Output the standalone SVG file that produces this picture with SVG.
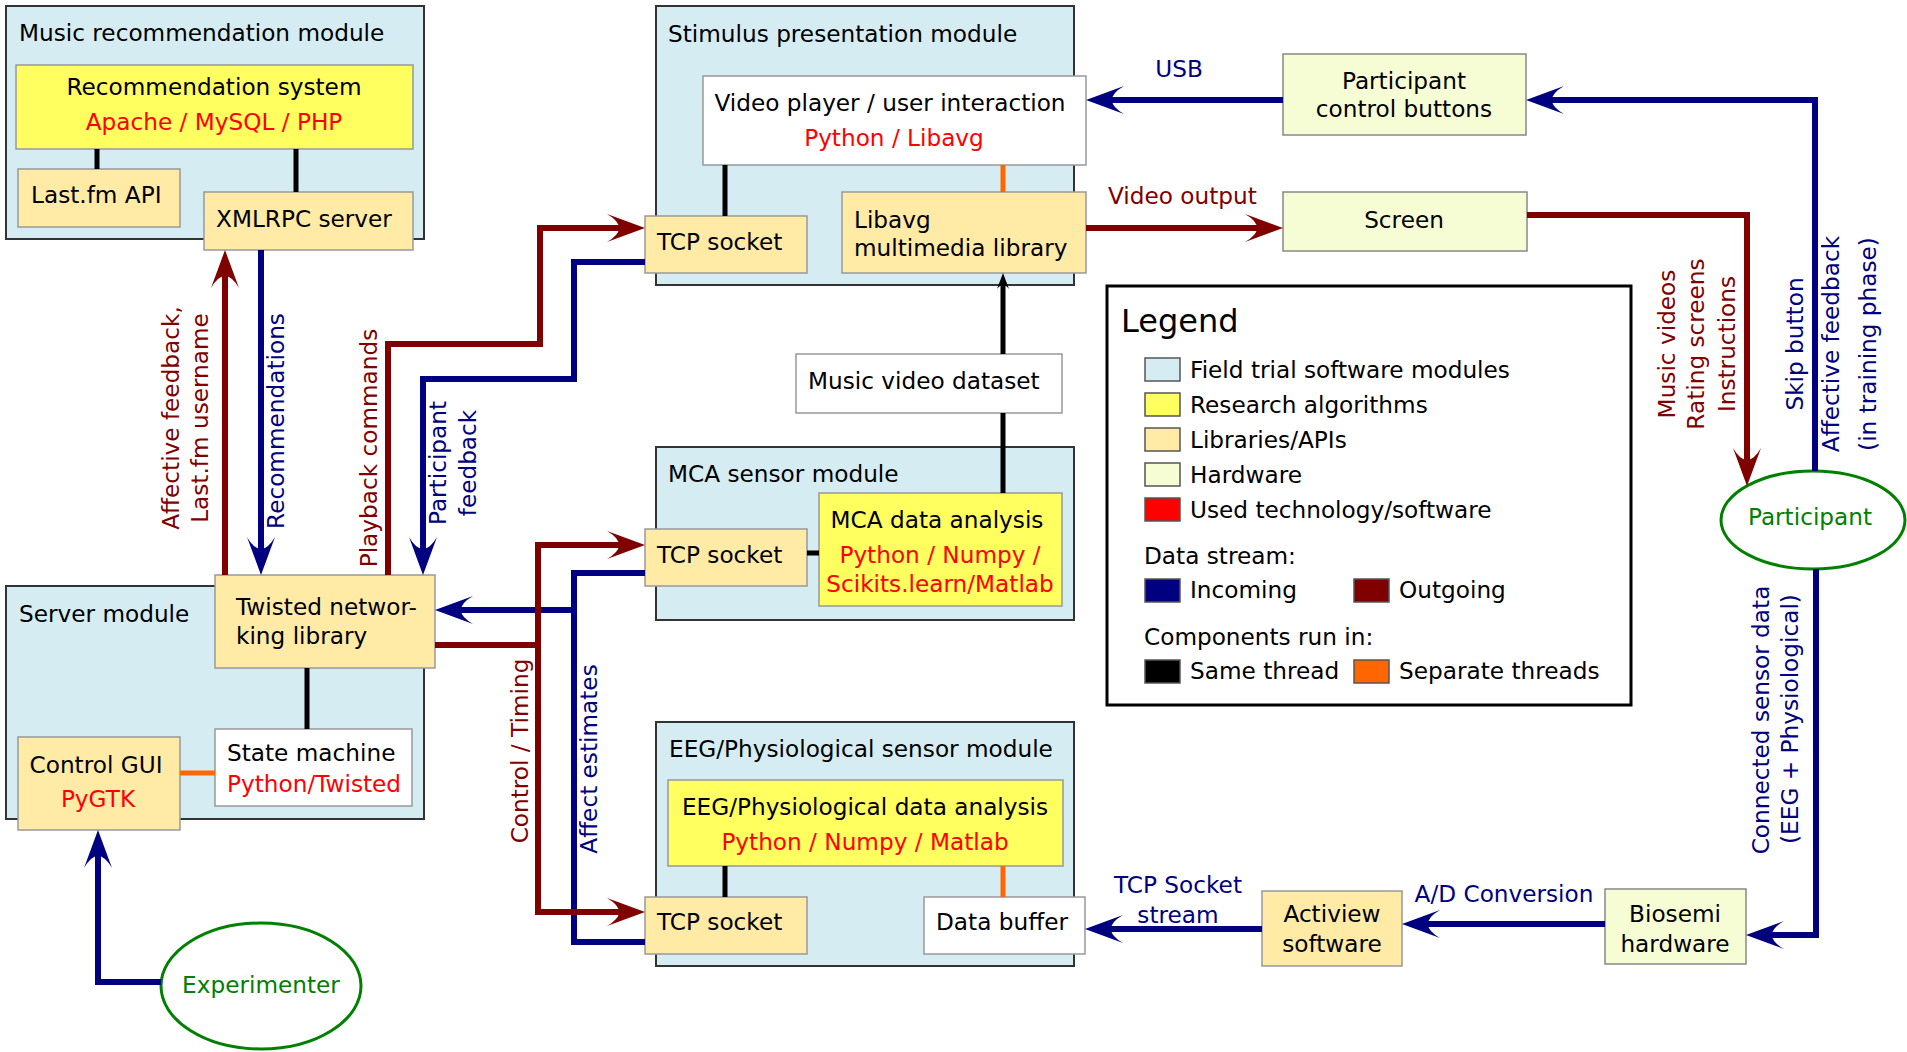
<svg xmlns="http://www.w3.org/2000/svg" width="1907" height="1052" viewBox="0 0 1907 1052">
<style>
text{font-family:"DejaVu Sans","Noto Sans",sans-serif;font-size:23.2px;fill:#000}
.mod{fill:#d5ecf3;stroke:#333;stroke-width:2}
.alg{fill:#ffff5f;stroke:#999;stroke-width:1.5}
.lib{fill:#ffeaa6;stroke:#999;stroke-width:1.5}
.hw{fill:#f6fdd4;stroke:#888;stroke-width:1.5}
.wh{fill:#fff;stroke:#999;stroke-width:1.5}
.tech{fill:#ff0000}
.lr{fill:#800000}
.lb{fill:#000080}
.gr{fill:#008000}
.mid{text-anchor:middle}
.actor{fill:#fff;stroke:#008000;stroke-width:3}
.blue{fill:none;stroke:#000080;stroke-width:6;stroke-linejoin:miter}
.red{fill:none;stroke:#800000;stroke-width:6;stroke-linejoin:miter}
.same{fill:none;stroke:#000;stroke-width:5}
.sep{fill:none;stroke:#ff6600;stroke-width:5}
.sw{stroke:#555;stroke-width:1.5}
</style>
<defs>
<marker id="ab" markerUnits="userSpaceOnUse" viewBox="-20 -15 42 30" markerWidth="42" markerHeight="30" refX="0" refY="0" orient="auto" overflow="visible"><path d="M20,0 L-18,-14 Q6,0 -18,14 Z" fill="#000080"/></marker>
<marker id="ar" markerUnits="userSpaceOnUse" viewBox="-20 -15 42 30" markerWidth="42" markerHeight="30" refX="0" refY="0" orient="auto" overflow="visible"><path d="M20,0 L-18,-14 Q6,0 -18,14 Z" fill="#800000"/></marker>
<marker id="ak" markerUnits="userSpaceOnUse" viewBox="-10 -7 20 14" markerWidth="20" markerHeight="14" refX="0" refY="0" orient="auto" overflow="visible"><path d="M8,0 L-8,-6 Q0,0 -8,6 Z" fill="#000"/></marker>
</defs>
<rect width="1907" height="1052" fill="#fff"/>

<!-- modules -->
<g id="music-recommendation-module"><rect class="mod" x="6" y="6" width="418" height="233"/><text x="19" y="41">Music recommendation module</text></g>
<g id="stimulus-presentation-module"><rect class="mod" x="656" y="6" width="418" height="279"/><text x="668" y="42">Stimulus presentation module</text></g>
<g id="mca-sensor-module"><rect class="mod" x="656" y="447" width="418" height="173"/><text x="668" y="482">MCA sensor module</text></g>
<g id="server-module"><rect class="mod" x="6" y="586" width="418" height="233"/><text x="19" y="622">Server module</text></g>
<g id="eeg-sensor-module"><rect class="mod" x="656" y="722" width="418" height="244"/><text x="669" y="757">EEG/Physiological sensor module</text></g>

<!-- nodes -->
<g id="recommendation-system"><rect class="alg" x="16" y="65" width="397" height="84"/><text class="mid" x="214" y="95">Recommendation system</text><text class="mid tech" x="214" y="130">Apache / MySQL / PHP</text></g>
<g id="lastfm-api"><rect class="lib" x="18" y="169" width="162" height="58"/><text x="31" y="203">Last.fm API</text></g>
<g id="xmlrpc-server"><rect class="lib" x="204" y="192" width="209" height="58"/><text x="216" y="227">XMLRPC server</text></g>

<g id="video-player"><rect class="wh" x="703" y="76" width="383" height="89"/><text class="mid" x="890" y="111">Video player / user interaction</text><text class="mid tech" x="894" y="146">Python / Libavg</text></g>
<g id="tcp-socket-stimulus"><rect class="lib" x="645" y="216" width="162" height="57"/><text x="657" y="250">TCP socket</text></g>
<g id="libavg"><rect class="lib" x="842" y="192" width="244" height="81"/><text x="854" y="228">Libavg</text><text x="854" y="256">multimedia library</text></g>

<g id="music-video-dataset"><rect class="wh" x="796" y="354" width="266" height="59"/><text x="808" y="389">Music video dataset</text></g>

<g id="tcp-socket-mca"><rect class="lib" x="645" y="529" width="162" height="57"/><text x="657" y="563">TCP socket</text></g>
<g id="mca-data-analysis"><rect class="alg" x="819" y="493" width="243" height="113"/><text class="mid" x="937" y="528">MCA data analysis</text><text class="mid tech" x="940" y="563">Python / Numpy /</text><text class="mid tech" x="940" y="592">Scikits.learn/Matlab</text></g>

<g id="twisted"><rect class="lib" x="215" y="575" width="220" height="93"/><text x="236" y="615">Twisted networ-</text><text x="236" y="644">king library</text></g>
<g id="state-machine"><rect class="wh" x="215" y="729" width="197" height="77"/><text x="227" y="761">State machine</text><text class="tech" x="227" y="792">Python/Twisted</text></g>
<g id="control-gui"><rect class="lib" x="18" y="737" width="162" height="93"/><text class="mid" x="96" y="773">Control GUI</text><text class="mid tech" x="98" y="807">PyGTK</text></g>

<g id="eeg-data-analysis"><rect class="alg" x="668" y="780" width="395" height="86"/><text class="mid" x="865" y="815">EEG/Physiological data analysis</text><text class="mid tech" x="865" y="850">Python / Numpy / Matlab</text></g>
<g id="tcp-socket-eeg"><rect class="lib" x="645" y="897" width="162" height="57"/><text x="657" y="930">TCP socket</text></g>
<g id="data-buffer"><rect class="wh" x="924" y="897" width="161" height="57"/><text x="936" y="930">Data buffer</text></g>

<g id="actiview"><rect class="lib" x="1262" y="891" width="140" height="75"/><text class="mid" x="1332" y="922">Actiview</text><text class="mid" x="1332" y="952">software</text></g>
<g id="biosemi"><rect class="hw" x="1605" y="889" width="141" height="75"/><text class="mid" x="1675" y="922">Biosemi</text><text class="mid" x="1675" y="952">hardware</text></g>

<g id="participant-control-buttons"><rect class="hw" x="1283" y="54" width="243" height="81"/><text class="mid" x="1404" y="89">Participant</text><text class="mid" x="1404" y="117">control buttons</text></g>
<g id="screen"><rect class="hw" x="1283" y="192" width="244" height="59"/><text class="mid" x="1404" y="228">Screen</text></g>

<g id="participant"><ellipse class="actor" cx="1813" cy="520" rx="92" ry="49"/><text class="mid gr" x="1810" y="525">Participant</text></g>
<g id="experimenter"><ellipse class="actor" cx="261" cy="986" rx="100" ry="63"/><text class="mid gr" x="261" y="993">Experimenter</text></g>

<!-- legend -->
<g id="legend">
<rect x="1107" y="286" width="524" height="419" fill="#fff" stroke="#000" stroke-width="3"/>
<text x="1121" y="332" style="font-size:32px">Legend</text>
<rect class="sw" x="1145" y="358" width="35" height="23" fill="#d5ecf3"/><text x="1190" y="378">Field trial software modules</text>
<rect class="sw" x="1145" y="393" width="35" height="23" fill="#ffff5f"/><text x="1190" y="413">Research algorithms</text>
<rect class="sw" x="1145" y="428" width="35" height="23" fill="#ffeaa6"/><text x="1190" y="448">Libraries/APIs</text>
<rect class="sw" x="1145" y="463" width="35" height="23" fill="#f6fdd4"/><text x="1190" y="483">Hardware</text>
<rect class="sw" x="1145" y="498" width="35" height="23" fill="#ff0000"/><text x="1190" y="518">Used technology/software</text>
<text x="1144" y="564">Data stream:</text>
<rect class="sw" x="1145" y="579" width="35" height="23" fill="#000080"/><text x="1190" y="598">Incoming</text>
<rect class="sw" x="1354" y="579" width="35" height="23" fill="#800000"/><text x="1399" y="598">Outgoing</text>
<text x="1144" y="645">Components run in:</text>
<rect class="sw" x="1145" y="660" width="35" height="23" fill="#000"/><text x="1190" y="679">Same thread</text>
<rect class="sw" x="1354" y="660" width="35" height="23" fill="#ff6600"/><text x="1399" y="679">Separate threads</text>
</g>

<!-- connectors -->
<g id="connectors">
<path class="same" d="M97,149 V169"/>
<path class="same" d="M296,149 V192"/>
<path class="same" d="M725,165 V216"/>
<path class="same" d="M307,668 V729"/>
<path class="same" d="M807,553 H819"/>
<path class="same" d="M725,866 V897"/>
<path class="same" d="M1003,413 V493"/>
<path class="same" d="M1003,354 V281" marker-end="url(#ak)"/>
<path class="sep" d="M1003,165 V192"/>
<path class="sep" d="M180,773 H215"/>
<path class="sep" d="M1003,866 V897"/>

<path class="blue" d="M261,250 V555" marker-end="url(#ab)"/>
<path class="blue" d="M645,262 H574 V379 H423 V555" marker-end="url(#ab)"/>
<path class="blue" d="M645,573 H574 V610 H455" marker-end="url(#ab)"/>
<path class="blue" d="M645,942 H574 V610"/>
<path class="blue" d="M1283,100 H1106" marker-end="url(#ab)"/>
<path class="blue" d="M1815,471 V100 H1546" marker-end="url(#ab)"/>
<path class="blue" d="M1816,569 V935 H1766" marker-end="url(#ab)"/>
<path class="blue" d="M1605,924 H1422" marker-end="url(#ab)"/>
<path class="blue" d="M1262,929 H1105" marker-end="url(#ab)"/>
<path class="blue" d="M161,982 H98 V850" marker-end="url(#ab)"/>

<path class="red" d="M225,575 V270" marker-end="url(#ar)"/>
<path class="red" d="M388,575 V344 H540 V228 H625" marker-end="url(#ar)"/>
<path class="red" d="M435,645 H538 V545 H625" marker-end="url(#ar)"/>
<path class="red" d="M538,645 V912 H625" marker-end="url(#ar)"/>
<path class="red" d="M1086,228 H1263" marker-end="url(#ar)"/>
<path class="red" d="M1527,215 H1747 V466" marker-end="url(#ar)"/>

<text class="mid lr" transform="translate(179,418) rotate(-90)">Affective feedback,</text>
<text class="mid lr" transform="translate(208,418) rotate(-90)">Last.fm username</text>
<text class="mid lb" transform="translate(284,421) rotate(-90)">Recommendations</text>
<text class="mid lr" transform="translate(377,448) rotate(-90)">Playback commands</text>
<text class="mid lb" transform="translate(446,463) rotate(-90)">Participant</text>
<text class="mid lb" transform="translate(476,463) rotate(-90)">feedback</text>
<text class="mid lr" transform="translate(528,751) rotate(-90)">Control / Timing</text>
<text class="mid lb" transform="translate(597,759) rotate(-90)">Affect estimates</text>
<text class="mid lb" x="1179" y="77">USB</text>
<text class="lr" x="1108" y="204">Video output</text>
<text class="mid lr" transform="translate(1675,344) rotate(-90)">Music videos</text>
<text class="mid lr" transform="translate(1704,344) rotate(-90)">Rating screens</text>
<text class="mid lr" transform="translate(1735,344) rotate(-90)">Instructions</text>
<text class="mid lb" transform="translate(1803,344) rotate(-90)">Skip button</text>
<text class="mid lb" transform="translate(1839,344) rotate(-90)">Affective feedback</text>
<text class="mid lb" transform="translate(1876,344) rotate(-90)">(in training phase)</text>
<text class="mid lb" transform="translate(1769,720) rotate(-90)">Connected sensor data</text>
<text class="mid lb" transform="translate(1798,719) rotate(-90)">(EEG + Physiological)</text>
<text class="mid lb" x="1178" y="893">TCP Socket</text>
<text class="mid lb" x="1178" y="923">stream</text>
<text class="mid lb" x="1504" y="902">A/D Conversion</text>
</g>
</svg>
